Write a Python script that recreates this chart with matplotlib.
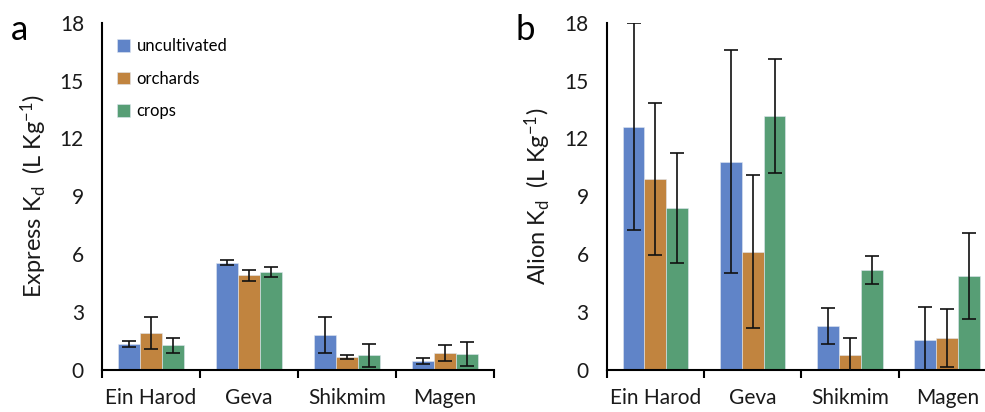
import matplotlib
matplotlib.use("Agg")
import matplotlib.pyplot as plt
import numpy as np

plt.rcParams['font.family'] = ['Lato', 'DejaVu Sans']
plt.rcParams['mathtext.fontset'] = 'custom'
plt.rcParams['mathtext.rm'] = 'Lato'
plt.rcParams['mathtext.it'] = 'Lato:italic'
plt.rcParams['mathtext.bf'] = 'Lato:bold'

sites = ["Ein Harod", "Geva", "Shikmim", "Magen"]
series = ["uncultivated", "orchards", "crops"]
colors = ["#6084C8", "#C1843F", "#579E75"]

express_uncult = [1.33, 5.57, 1.81, 0.48]
express_orch = [1.92, 4.90, 0.69, 0.86]
express_crops = [1.27, 5.07, 0.76, 0.81]
express_uncult_err = [0.15, 0.15, 0.93, 0.16]
express_orch_err = [0.85, 0.27, 0.11, 0.42]
express_crops_err = [0.37, 0.27, 0.60, 0.62]

alion_uncult = [12.6, 10.8, 2.26, 1.53]
alion_orch = [9.92, 6.12, 0.76, 1.66]
alion_crops = [8.42, 13.16, 5.17, 4.88]
alion_uncult_err = [5.37, 5.76, 0.93, 1.72]
alion_orch_err = [3.94, 3.97, 0.91, 1.50]
alion_crops_err = [2.85, 2.96, 0.72, 2.24]

yticks = [0, 3, 6, 9, 12, 15, 18]

fig = plt.figure(figsize=(9.85, 4.12), dpi=100)
ax_a = fig.add_axes([0.1036, 0.102, 0.398, 0.843])
ax_b = fig.add_axes([0.616, 0.102, 0.395, 0.843])

txtcol = "#1a1a1a"

def draw(ax, vals, errs, ylabel, letter, legend):
    x = np.arange(len(sites))
    w = 0.225
    for i, (v, e) in enumerate(zip(vals, errs)):
        ax.bar(x + (i - 1) * w, v, width=w, color=colors[i], edgecolor="#dfe6f0",
               linewidth=0.4, label=series[i], zorder=2)
        ax.errorbar(x + (i - 1) * w, v, yerr=e, fmt='none', ecolor='#111111',
                    elinewidth=1.2, capsize=5, capthick=1.2, zorder=3)
    ax.set_xlim(-0.5, len(sites) - 0.5)
    ax.set_ylim(0, 18)
    ax.set_yticks(yticks)
    ax.set_yticklabels([str(t) for t in yticks], fontsize=15, color=txtcol)
    ax.tick_params(axis='y', length=0, pad=13)
    ax.set_xticks(np.arange(len(sites) + 1) - 0.5)
    ax.set_xticklabels([])
    ax.set_xticks(x, minor=True)
    ax.set_xticklabels(sites, minor=True, fontsize=15, color=txtcol)
    ax.tick_params(axis='x', which='major', length=6, width=1.5, direction='out', color='black')
    ax.tick_params(axis='x', which='minor', length=0, pad=13)
    for s in ['top', 'right']:
        ax.spines[s].set_visible(False)
    for s in ['left', 'bottom']:
        ax.spines[s].set_linewidth(1.5)
        ax.spines[s].set_color('black')
    ax.set_ylabel(ylabel, fontsize=17, color=txtcol, labelpad=8)
    ax.text(-0.21, 1.025, letter, transform=ax.transAxes, fontsize=25, color='black',
            ha='center', va='top')
    if legend:
        ax.legend(loc='upper left', bbox_to_anchor=(0.02, 0.975), frameon=False,
                  fontsize=12, handlelength=0.8, handleheight=0.8, handletextpad=0.4,
                  labelspacing=1.0, borderaxespad=0)

draw(ax_a, [express_uncult, express_orch, express_crops],
     [express_uncult_err, express_orch_err, express_crops_err],
     r'Express K$_\mathrm{d}$  (L Kg$^{\mathrm{-1}}$)', 'a', True)
draw(ax_b, [alion_uncult, alion_orch, alion_crops],
     [alion_uncult_err, alion_orch_err, alion_crops_err],
     r'Alion K$_\mathrm{d}$  (L Kg$^{\mathrm{-1}}$)', 'b', False)

fig.savefig("out.png", dpi=100)
